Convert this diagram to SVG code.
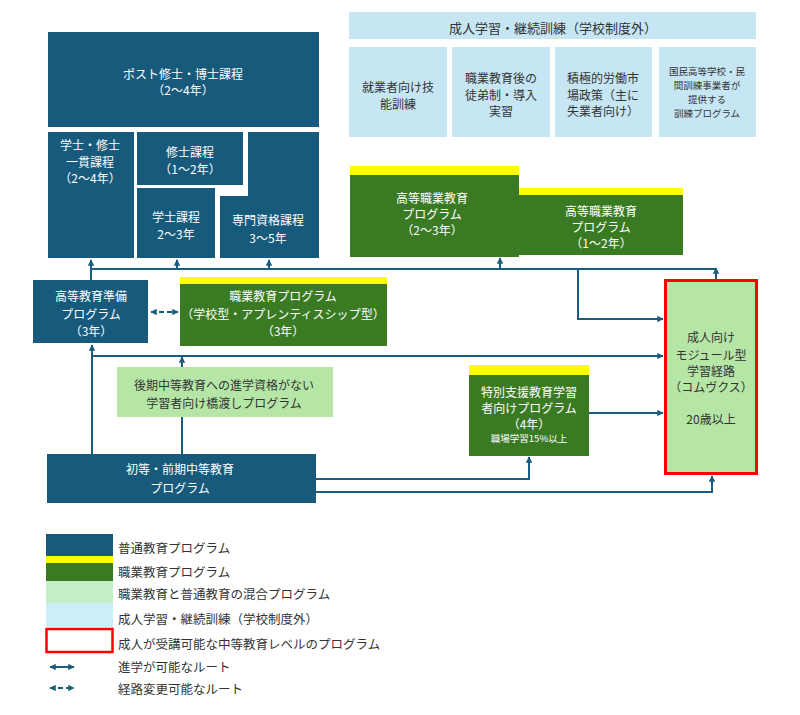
<svg xmlns="http://www.w3.org/2000/svg" width="800" height="715" viewBox="0 0 800 715">
<defs>
<marker id="ah" viewBox="0 0 10 10" refX="9" refY="5" markerWidth="3.2" markerHeight="3.2" orient="auto-start-reverse" markerUnits="strokeWidth">
<path d="M0,0 L10,5 L0,10 Z" fill="#1b5b7d"/>
</marker>
<style>
text{font-family:"Noto Sans CJK JP","Noto Sans",sans-serif;text-anchor:middle;dominant-baseline:central;font-size:12px}
.w{fill:#ffffff}
.d{fill:#333333}
.s{font-size:9.5px}
.blue{fill:#175a7b}
.green{fill:#3a7a23}
.yel{fill:#ffff00}
.lg{fill:#b5e6a6}
.lb{fill:#c6e6f4}
.c{fill:none;stroke:#1b5b7d;stroke-width:2}
.lt{font-size:12.5px;text-anchor:start;fill:#333333}
</style>
</defs>
<rect width="800" height="715" fill="#ffffff"/>

<g id="post-doc"><rect class="blue" x="48" y="32" width="271" height="95"/><text class="w" x="183" y="73">ポスト修士・博士課程</text><text class="w" x="183" y="89">（2～4年）</text></g>
<g id="integrated"><rect class="blue" x="48" y="132" width="86" height="126"/><text class="w" x="90" y="144">学士・修士</text><text class="w" x="90" y="161">一貫課程</text><text class="w" x="90" y="177">（2～4年）</text></g>
<g id="master"><rect class="blue" x="137" y="132" width="106" height="53"/><text class="w" x="190" y="151">修士課程</text><text class="w" x="190" y="168">（1～2年）</text></g>
<g id="bachelor"><rect class="blue" x="137" y="188" width="78" height="70"/><text class="w" x="176" y="216">学士課程</text><text class="w" x="176" y="233">2～3年</text></g>
<g id="professional"><path class="blue" d="M248,132 H319 V258 H220 V196 H248 Z"/><text class="w" x="268" y="219">専門資格課程</text><text class="w" x="268" y="237">3～5年</text></g>

<g id="adult-header"><rect class="lb" x="349" y="12" width="407" height="27"/><text class="d" x="553" y="27" style="font-size:13px">成人学習・継続訓練（学校制度外）</text></g>
<g id="adult-1"><rect class="lb" x="349" y="47" width="98" height="90"/><text class="d" x="398" y="86">就業者向け技</text><text class="d" x="398" y="103">能訓練</text></g>
<g id="adult-2"><rect class="lb" x="452" y="47" width="98" height="90"/><text class="d" x="501" y="77">職業教育後の</text><text class="d" x="501" y="94">徒弟制・導入</text><text class="d" x="501" y="110">実習</text></g>
<g id="adult-3"><rect class="lb" x="555" y="47" width="97" height="90"/><text class="d" x="603" y="77">積極的労働市</text><text class="d" x="603" y="94">場政策（主に</text><text class="d" x="603" y="110">失業者向け）</text></g>
<g id="adult-4"><rect class="lb" x="659" y="47" width="97" height="90"/><text class="d s" x="707" y="71">国民高等学校・民</text><text class="d s" x="707" y="85">間訓練事業者が</text><text class="d s" x="707" y="99">提供する</text><text class="d s" x="707" y="113">訓練プログラム</text></g>

<g id="higher-voc-1"><rect class="yel" x="350" y="166" width="169" height="9"/><rect class="green" x="350" y="175" width="169" height="82"/><text class="w" x="432" y="197">高等職業教育</text><text class="w" x="432" y="213">プログラム</text><text class="w" x="432" y="229">（2～3年）</text></g>
<g id="higher-voc-2"><rect class="yel" x="519" y="188" width="164" height="7"/><rect class="green" x="519" y="195" width="164" height="60"/><text class="w" x="601" y="210">高等職業教育</text><text class="w" x="601" y="226">プログラム</text><text class="w" x="601" y="242">（1～2年）</text></g>

<g id="prep"><rect class="blue" x="33" y="280" width="115" height="63"/><text class="w" x="91" y="295">高等教育準備</text><text class="w" x="91" y="313">プログラム</text><text class="w" x="91" y="330">（3年）</text></g>
<g id="voc"><rect class="yel" x="180" y="277" width="207" height="7"/><rect class="green" x="180" y="284" width="207" height="62"/><text class="w" x="283" y="295">職業教育プログラム</text><text class="w" x="283" y="313">（学校型・アプレンティスシップ型）</text><text class="w" x="283" y="330">（3年）</text></g>
<g id="bridge"><rect class="lg" x="117" y="367" width="216" height="50"/><text class="d" x="224" y="384">後期中等教育への進学資格がない</text><text class="d" x="224" y="402">学習者向け橋渡しプログラム</text></g>
<g id="elementary"><rect class="blue" x="47" y="454" width="269" height="49"/><text class="w" x="180" y="468">初等・前期中等教育</text><text class="w" x="180" y="487">プログラム</text></g>
<g id="special"><rect class="yel" x="469" y="365" width="120" height="10"/><rect class="green" x="469" y="375" width="120" height="81"/><text class="w" x="529" y="391">特別支援教育学習</text><text class="w" x="529" y="407">者向けプログラム</text><text class="w" x="529" y="423">（4年）</text><text class="w" x="529" y="438" style="font-size:9.5px">職場学習15%以上</text></g>
<g id="komvux"><rect class="lg" x="665.5" y="280.5" width="91" height="193" stroke="#ff0000" stroke-width="3"/><text class="d" x="711" y="336">成人向け</text><text class="d" x="711" y="354">モジュール型</text><text class="d" x="711" y="370">学習経路</text><text class="d" x="711" y="386">（コムヴクス）</text><text class="d" x="711" y="418">20歳以上</text></g>

<g id="connectors">
<path class="c" d="M91,280 V260" marker-end="url(#ah)"/>
<path class="c" d="M91,269 H716"/>
<path class="c" d="M177,269 V260" marker-end="url(#ah)"/>
<path class="c" d="M269,269 V260" marker-end="url(#ah)"/>
<path class="c" d="M500,269 V258" marker-end="url(#ah)"/>
<path class="c" d="M716,279 V268" marker-end="url(#ah)"/>
<path class="c" d="M578,269 V319 H663" marker-end="url(#ah)"/>
<path class="c" d="M151,312 H178" stroke-dasharray="5,3" marker-start="url(#ah)" marker-end="url(#ah)"/>
<path class="c" d="M92,454 V345" marker-end="url(#ah)"/>
<path class="c" d="M92,356 H663" marker-end="url(#ah)"/>
<path class="c" d="M182,367 V357" marker-end="url(#ah)"/>
<path class="c" d="M182,454 V417"/>
<path class="c" d="M316,479 H529 V457" marker-end="url(#ah)"/>
<path class="c" d="M316,492 H712 V476" marker-end="url(#ah)"/>
<path class="c" d="M589,413 H663" marker-end="url(#ah)"/>
</g>

<g id="legend">
<rect class="blue" x="46" y="534" width="67" height="22"/>
<rect class="yel" x="46" y="556" width="67" height="7"/>
<rect class="green" x="46" y="563" width="67" height="18"/>
<rect x="46" y="581" width="67" height="22" fill="#c6efc8"/>
<rect x="46" y="603" width="67" height="24" fill="#cdedfa"/>
<rect x="46.5" y="629" width="66" height="23" fill="#ffffff" stroke="#ff0000" stroke-width="2.5"/>
<path class="c" d="M50,667 H74" marker-start="url(#ah)" marker-end="url(#ah)"/>
<path class="c" d="M50,688 H74" stroke-dasharray="5,3" marker-start="url(#ah)" marker-end="url(#ah)"/>
<text class="lt" x="118" y="547">普通教育プログラム</text>
<text class="lt" x="118" y="571">職業教育プログラム</text>
<text class="lt" x="118" y="593">職業教育と普通教育の混合プログラム</text>
<text class="lt" x="118" y="618">成人学習・継続訓練（学校制度外）</text>
<text class="lt" x="118" y="643">成人が受講可能な中等教育レベルのプログラム</text>
<text class="lt" x="118" y="666">進学が可能なルート</text>
<text class="lt" x="118" y="688">経路変更可能なルート</text>
</g>
</svg>
